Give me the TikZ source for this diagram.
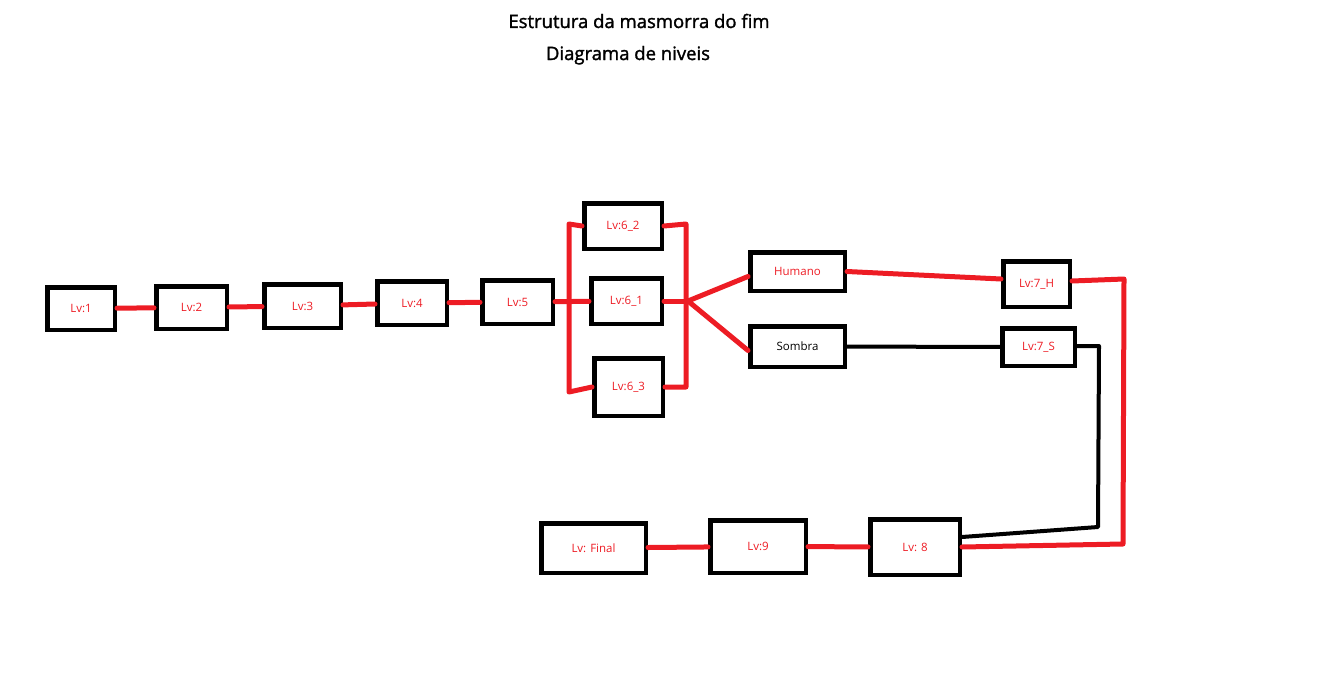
\documentclass[tikz,border=0pt]{standalone}
\usepackage{fontspec}
\setmainfont{Open Sans}
\newfontfamily\titlefont{Open Sans}[FakeBold=1.6]
\usepackage{tikz}
\definecolor{paintred}{RGB}{237,28,36}

\begin{document}
\begin{tikzpicture}[x=1pt,y=-1pt,thick,
  level/.style={rectangle,draw,line width=4.5pt,text=paintred,inner sep=0pt,font=\fontsize{11.5}{13}\selectfont},
  heading/.style={anchor=base,font=\titlefont\fontsize{18.5}{22}\selectfont},
  redline/.style={draw=paintred,line width=5pt,line cap=round,line join=round},
  blackline/.style={draw=black,line width=4pt,line cap=round,line join=round}]
\useasboundingbox (0,0) rectangle (1319,677);
\node[heading] (T1) at (639,28) {Estrutura da masmorra do fim};
\node[heading] (T2) at (628,60) {Diagrama de niveis};
\node[level] (L1) [minimum width=67.5pt, minimum height=42.5pt] at (81,308.5) {Lv:1};
\node[level] (L2) [minimum width=70.5pt, minimum height=42.5pt] at (191.5,307.5) {Lv:2};
\node[level] (L3) [minimum width=76.5pt, minimum height=43.5pt] at (302.5,306) {Lv:3};
\node[level] (L4) [minimum width=69.5pt, minimum height=43.5pt] at (412,303) {Lv:4};
\node[level] (L5) [minimum width=70.5pt, minimum height=43.5pt] at (517.5,302) {Lv:5};
\node[level] (L62) [minimum width=77.5pt, minimum height=45.5pt] at (623,226) {Lv:6\_2};
\node[level] (L61) [minimum width=70.5pt, minimum height=45.5pt] at (626.5,301) {Lv:6\_1};
\node[level] (L63) [minimum width=68.5pt, minimum height=57.5pt] at (628.5,387) {Lv:6\_3};
\node[level] (Hum) [minimum width=94.5pt, minimum height=38.5pt] at (797.5,271.5) {Humano};
\node[level] (Som) [minimum width=94.5pt, minimum height=40.5pt, text=black] at (797.5,346.5) {Sombra};
\node[level] (L7H) [minimum width=66.5pt, minimum height=45.5pt] at (1036.5,284) {Lv:7\_H};
\node[level] (L7S) [minimum width=72.5pt, minimum height=37.5pt] at (1038.5,347) {Lv:7\_S};
\node[level] (Fin) [minimum width=104.5pt, minimum height=49.5pt] at (593.5,548) {Lv: Final};
\node[level] (L9) [minimum width=95.5pt, minimum height=52.5pt] at (758,546.5) {Lv:9};
\node[level] (L8) [minimum width=89.5pt, minimum height=55.5pt] at (915,547) {Lv: 8};
% bus corners
\coordinate (bl1) at (569,224);
\coordinate (bl2) at (569,392);
\coordinate (br1) at (686,224);
\coordinate (br2) at (686,387);
\coordinate (fork) at (688,301);
\coordinate (h1) at (1124,279);
\coordinate (h2) at (1123,544);
\coordinate (s1) at (1099,346);
\coordinate (s2) at (1098,527);
\path[redline]
(L1) edge (L2)
(L2) edge (L3)
(L3) edge (L4)
(L4) edge (L5)
(L5) edge (L61)
(L61) edge (fork)
(fork) edge ([yshift=-5pt]Hum.west)
    edge ([yshift=-4pt]Som.west)
(Hum.east) edge ([yshift=5pt]L7H.west)
(L9) edge (L8)
(Fin) edge (L9);
\draw[redline] (L62.west) -- (bl1) -- (bl2) -- (L63.west);
\draw[redline] (L62.east) -- (br1) -- (br2) -- (L63.east);
\draw[redline] ([yshift=3pt]L7H.east) -- (h1) -- (h2) -- (L8.east);
\path[blackline]
(Som) edge (L7S);
\draw[blackline] ([yshift=1pt]L7S.east) -- (s1) -- (s2) -- ([yshift=10pt]L8.east);
\end{tikzpicture}
\end{document}
